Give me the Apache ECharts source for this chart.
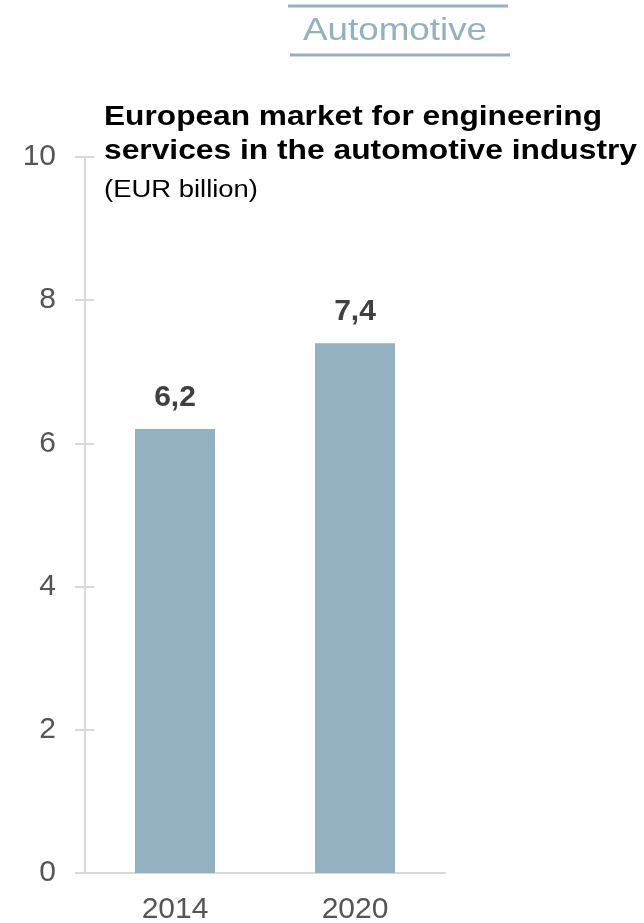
<!DOCTYPE html>
<html><head><meta charset="utf-8">
<script src="https://cdn.jsdelivr.net/npm/echarts@6/dist/echarts.min.js"></script>
<style>html,body{margin:0;padding:0;background:#fff}#c{width:644px;height:923px}</style>
</head><body><div id="c"></div>
<script>
const categories = ['2014', '2020'];
const values = [6.2, 7.4];
const yTicks = [0, 2, 4, 6, 8, 10];
const headerText = 'Automotive';
const titleLines = ['European market for engineering', 'services in the automotive industry'];
const subtitleText = '(EUR billion)';

const font = '"Liberation Sans", Arial, sans-serif';
const ctx = document.createElement('canvas').getContext('2d');
function fitScale(text, fontStr, targetW) {
  ctx.font = fontStr;
  return targetW / ctx.measureText(text).width;
}
const headerFont = '32px ' + font;
const titleFont = 'bold 28px ' + font;
const subFont = '23px ' + font;

const chart = echarts.init(document.getElementById('c'));
const yAxisBase = {
  type: 'value', min: yTicks[0], max: yTicks[yTicks.length - 1], interval: 2,
  splitLine: { show: false }
};
chart.setOption({
  animation: false,
  grid: { left: 85, right: 199, top: 157, bottom: 50, containLabel: false, outerBoundsMode: 'none' },
  graphic: [
    { type: 'line', shape: { x1: 288, y1: 6, x2: 508, y2: 6 }, style: { stroke: '#93b1c1', lineWidth: 3 } },
    { type: 'line', shape: { x1: 290, y1: 55, x2: 510, y2: 55 }, style: { stroke: '#93b1c1', lineWidth: 3 } },
    { type: 'text', x: 303, y: 47, scaleX: fitScale(headerText, headerFont, 184),
      style: { text: headerText, font: headerFont, fill: '#93b1c1', textAlign: 'left', textVerticalAlign: 'bottom' } },
    { type: 'text', x: 104, y: 131, scaleX: fitScale(titleLines[0], titleFont, 498),
      style: { text: titleLines[0], font: titleFont, fill: '#000', textAlign: 'left', textVerticalAlign: 'bottom' } },
    { type: 'text', x: 104, y: 165, scaleX: fitScale(titleLines[1], titleFont, 533),
      style: { text: titleLines[1], font: titleFont, fill: '#000', textAlign: 'left', textVerticalAlign: 'bottom' } },
    { type: 'text', x: 104, y: 202, scaleX: fitScale(subtitleText, subFont, 154),
      style: { text: subtitleText, font: subFont, fill: '#000', textAlign: 'left', textVerticalAlign: 'bottom' } }
  ],
  xAxis: {
    type: 'category', data: categories,
    axisLine: { show: true, lineStyle: { color: '#d9d9d9', width: 2 } },
    axisTick: { show: false },
    axisLabel: { color: '#555', fontSize: 30, fontFamily: font, margin: 22 }
  },
  yAxis: [
    Object.assign({}, yAxisBase, {
      axisLine: { show: true, lineStyle: { color: '#d9d9d9', width: 2 } },
      axisTick: { show: true, length: 10, lineStyle: { color: '#d9d9d9', width: 2 } },
      axisLabel: { color: '#555', fontSize: 30, fontFamily: font, margin: 29 }
    }),
    Object.assign({}, yAxisBase, {
      position: 'left',
      axisLine: { show: false },
      axisTick: { show: true, inside: true, length: 9, lineStyle: { color: '#d9d9d9', width: 2 } },
      axisLabel: { show: false }
    })
  ],
  series: [{
    type: 'bar', data: values, barWidth: 80,
    itemStyle: { color: '#93b1c1' },
    label: {
      show: true, position: 'top', distance: 16,
      formatter: p => String(p.value).replace('.', ','),
      color: '#404040', fontSize: 30, fontWeight: 'bold', fontFamily: font
    }
  }]
});
</script></body></html>
